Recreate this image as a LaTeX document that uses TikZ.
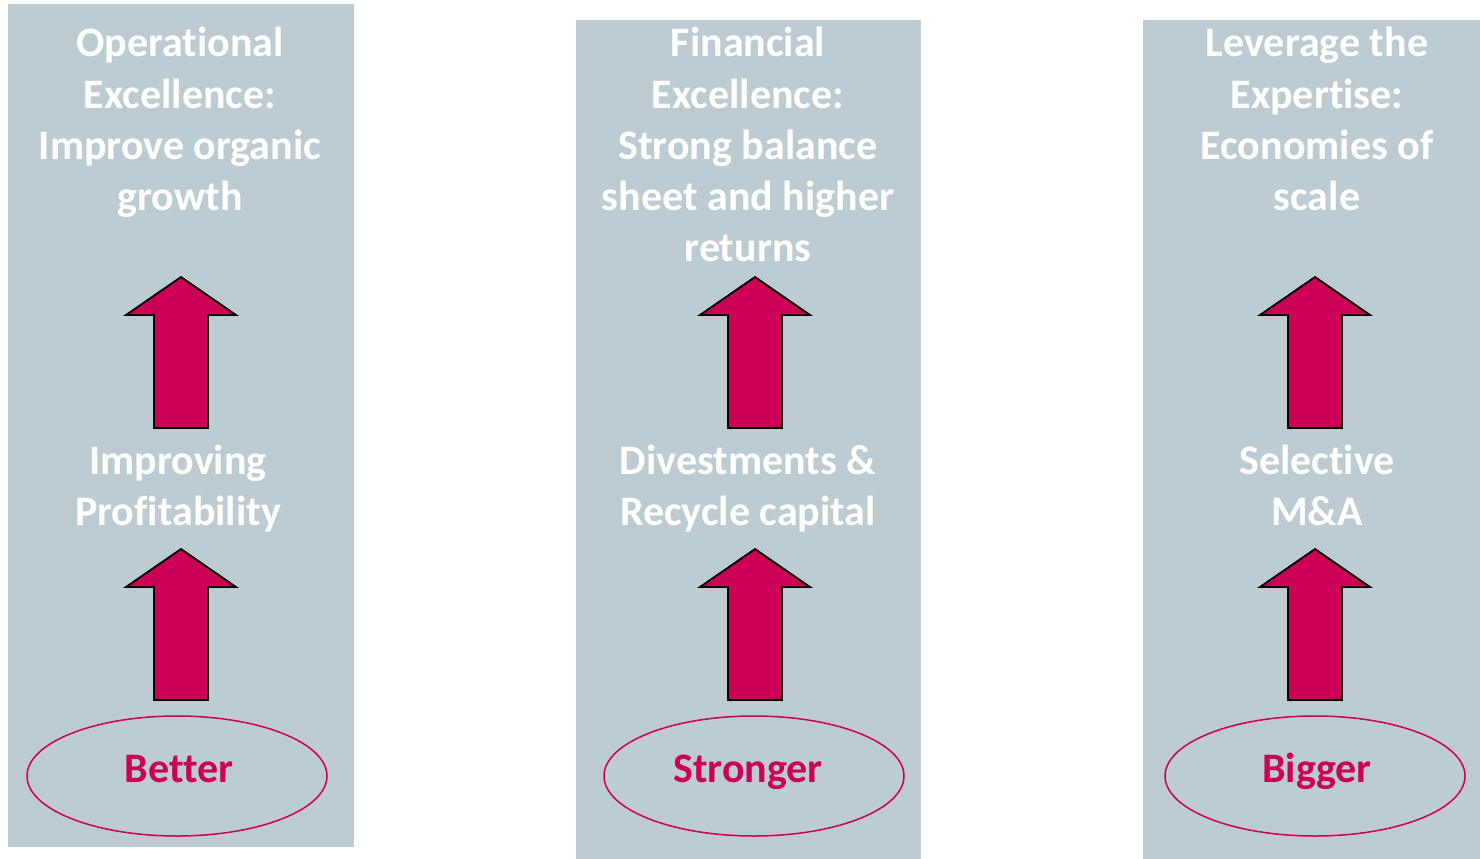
\documentclass[tikz,border=0pt]{standalone}
\usepackage{fontspec}
\setmainfont[Ligatures=NoCommon]{Carlito}
\usetikzlibrary{shapes.geometric}
\definecolor{panelgrey}{HTML}{BDCCD2}
\definecolor{crimson}{HTML}{CC0055}
\newcommand\blockarrow[3]{%
  \draw[uparrow] (#1,#2) -- (#1+55,#2+38) -- (#1+27,#2+38) -- (#1+27,#3)
    -- (#1-27,#3) -- (#1-27,#2+38) -- (#1-55,#2+38) -- cycle;}
\begin{document}
\begin{tikzpicture}[x=1pt,y=-1pt,
  panel/.style={fill=panelgrey,draw=none},
  txt/.style={anchor=base,text=white,font=\fontsize{42}{51}\selectfont\bfseries,inner sep=0pt},
  oval/.style={ellipse,draw=crimson,line width=1.5pt,minimum width=300pt,minimum height=120pt,inner sep=0pt},
  ovaltxt/.style={anchor=base,text=crimson,font=\fontsize{42}{51}\selectfont\bfseries,inner sep=0pt},
  uparrow/.style={fill=crimson,draw=black,line width=1.8pt,line join=miter}]
\useasboundingbox (0,0) rectangle (1480,859);
% panels
\fill[panel] (8,4) rectangle (354,847);
\fill[panel] (576,20) rectangle (921,859);
\fill[panel] (1143,20) rectangle (1480,859);
% column 1
\node[txt] (h1a) at (180,57) {Operational};
\node[txt] (h1b) at (180,108) {Excellence:};
\node[txt] (h1c) at (180,159) {Improve organic};
\node[txt] (h1d) at (180,210) {growth};
\node[txt] (m1a) at (178,474) {Improving};
\node[txt] (m1b) at (178,525) {Profitability};
\node[oval] (o1) at (177,776) {};
\node[ovaltxt] (t1) at (179,782) {Better};
\blockarrow{181}{277}{428}
\blockarrow{181}{549}{700}
% column 2
\node[txt] (h2a) at (748,57) {Financial};
\node[txt] (h2b) at (748,108) {Excellence:};
\node[txt] (h2c) at (748,159) {Strong balance};
\node[txt] (h2d) at (748,210) {sheet and higher};
\node[txt] (h2e) at (748,261) {returns};
\node[txt] (m2a) at (748,474) {Divestments \&};
\node[txt] (m2b) at (748,525) {Recycle capital};
\node[oval] (o2) at (754,776) {};
\node[ovaltxt] (t2) at (748,782) {Stronger};
\blockarrow{755}{277}{428}
\blockarrow{755}{549}{700}
% column 3
\node[txt] (h3a) at (1317,57) {Leverage the};
\node[txt] (h3b) at (1317,108) {Expertise:};
\node[txt] (h3c) at (1317,159) {Economies of};
\node[txt] (h3d) at (1317,210) {scale};
\node[txt] (m3a) at (1317,474) {Selective};
\node[txt] (m3b) at (1317,525) {M\&A};
\node[oval] (o3) at (1315,776) {};
\node[ovaltxt] (t3) at (1317,782) {Bigger};
\blockarrow{1315}{277}{428}
\blockarrow{1315}{549}{700}
\end{tikzpicture}
\end{document}
